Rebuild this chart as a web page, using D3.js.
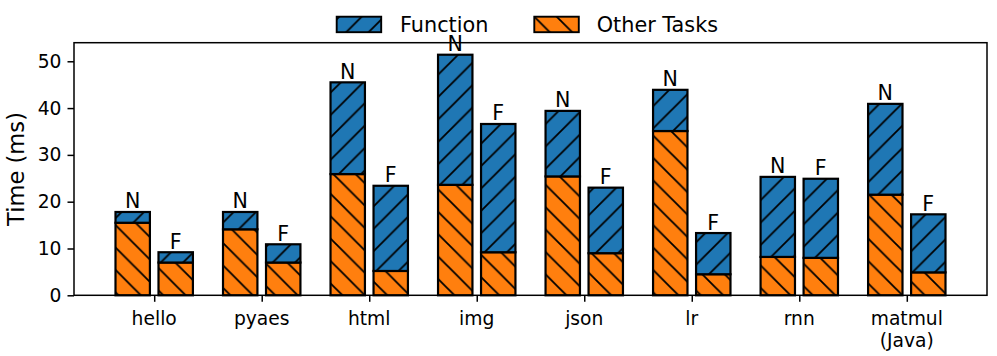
<!DOCTYPE html>
<html>
<head>
<meta charset="utf-8">
<script src="https://cdn.jsdelivr.net/npm/d3@7"></script>
<style>
  html, body { margin: 0; padding: 0; background: #fff; }
  svg { display: block; font-family: "DejaVu Sans", sans-serif; }
</style>
</head>
<body>
<svg id="chart" width="997" height="356"></svg>
<script>
// ---- data ----
const categories = ["hello", "pyaes", "html", "img", "json", "lr", "rnn", "matmul\n(Java)"];
// N (native) bars
const nativeOther = [15.5, 14.1, 25.9, 23.6, 25.4, 35.1, 8.2, 21.5];
const nativeFunction = [2.3, 3.7, 19.6, 27.8, 14.0, 8.8, 17.1, 19.4];
// F bars
const fOther = [7.0, 7.0, 5.2, 9.2, 9.0, 4.5, 8.0, 4.9];
const fFunction = [2.2, 3.9, 18.2, 27.4, 14.0, 8.8, 16.9, 12.4];
const barLabels = ["N", "F"];
const seriesNames = ["Function", "Other Tasks"];
const yTicks = [0, 10, 20, 30, 40, 50];

// ---- layout ----
const svg = d3.select("#chart");
const L = 74, R = 987, T = 42.7, B = 295.3;
const barW = 0.32, off = 0.2;
const colors = { func: "#1f77b4", other: "#ff7f0e" };

const xMin = -off - barW / 2, xMax = categories.length - 1 + off + barW / 2;
const xm = (xMax - xMin) * 0.05;
const x = d3.scaleLinear().domain([xMin - xm, xMax + xm]).range([L, R]);

const totals = nativeOther.map((v, i) => v + nativeFunction[i])
  .concat(fOther.map((v, i) => v + fFunction[i]));
const y = d3.scaleLinear().domain([0, d3.max(totals) * 1.05]).range([B, T]);

// ---- hatch patterns ----
const defs = svg.append("defs");
const s = 22.4, hw = 1.8;
function makePattern(id, color, forward) {
  const p = defs.append("pattern").attr("id", id)
    .attr("patternUnits", "userSpaceOnUse")
    .attr("width", s).attr("height", s)
    .attr("x", 0).attr("y", 356 % s);
  p.append("rect").attr("width", s).attr("height", s).attr("fill", color);
  const d = forward
    ? `M0,${s} L${s},0 M${-s/2},${s/2} L${s/2},${-s/2} M${s/2},${1.5*s} L${1.5*s},${s/2}`
    : `M0,0 L${s},${s} M${-s/2},${s/2} L${s/2},${1.5*s} M${s/2},${-s/2} L${1.5*s},${s/2}`;
  p.append("path").attr("d", d).attr("stroke", "#000").attr("stroke-width", hw).attr("fill", "none");
}
makePattern("hFunc", colors.func, true);
makePattern("hOther", colors.other, false);

// ---- bars ----
const groups = [
  { other: nativeOther, func: nativeFunction, dx: -off, label: barLabels[0] },
  { other: fOther, func: fFunction, dx: off, label: barLabels[1] }
];
const gBars = svg.append("g");
groups.forEach(g => {
  categories.forEach((c, i) => {
    const x0 = x(i + g.dx - barW / 2), x1 = x(i + g.dx + barW / 2);
    const o = g.other[i], f = g.func[i];
    gBars.append("rect")
      .attr("x", x0).attr("width", x1 - x0)
      .attr("y", y(o)).attr("height", y(0) - y(o))
      .attr("fill", "url(#hOther)").attr("stroke", "#000").attr("stroke-width", 2.2);
    gBars.append("rect")
      .attr("x", x0).attr("width", x1 - x0)
      .attr("y", y(o + f)).attr("height", y(o) - y(o + f))
      .attr("fill", "url(#hFunc)").attr("stroke", "#000").attr("stroke-width", 2.2);
    svg.append("text")
      .attr("x", (x0 + x1) / 2).attr("y", y(o + f) - 3.5)
      .attr("text-anchor", "middle").attr("font-size", 20.6)
      .text(g.label);
  });
});

// ---- axes ----
const yAxis = d3.axisLeft(y).tickValues(yTicks).tickSize(6.5).tickPadding(6);
const gy = svg.append("g").attr("transform", `translate(${L},0)`).call(yAxis);
gy.select(".domain").remove();
gy.selectAll("line").attr("stroke-width", 1.5);
gy.selectAll("text").attr("font-size", 18.7).attr("font-family", "DejaVu Sans").attr("fill", "#000");

const xAxis = d3.axisBottom(x).tickValues(d3.range(categories.length)).tickSize(6.5).tickFormat("");
const gx = svg.append("g").attr("transform", `translate(0,${B})`).call(xAxis);
gx.select(".domain").remove();
gx.selectAll("line").attr("stroke-width", 1.5);
categories.forEach((c, i) => {
  const t = svg.append("text").attr("x", x(i)).attr("y", 325)
    .attr("text-anchor", "middle").attr("font-size", 18.7);
  c.split("\n").forEach((line, j) => {
    t.append("tspan").attr("x", x(i)).attr("dy", j === 0 ? 0 : 22).text(line);
  });
});

// frame
svg.append("rect").attr("x", L).attr("y", T).attr("width", R - L).attr("height", B - T)
  .attr("fill", "none").attr("stroke", "#000").attr("stroke-width", 1.5);

// y label
svg.append("text")
  .attr("transform", `translate(24,${(T + B) / 2}) rotate(-90)`)
  .attr("text-anchor", "middle").attr("font-size", 22.6)
  .text("Time (ms)");

// ---- legend ----
const legendItems = [
  { name: seriesNames[0], fill: "url(#hFunc)", hx: 336.7, tx: 400 },
  { name: seriesNames[1], fill: "url(#hOther)", hx: 534.3, tx: 596.7 }
];
legendItems.forEach(it => {
  svg.append("rect").attr("x", it.hx).attr("y", 16.7).attr("width", 44.5).attr("height", 15.5)
    .attr("fill", it.fill).attr("stroke", "#000").attr("stroke-width", 1.9);
  svg.append("text").attr("x", it.tx).attr("y", 32).attr("font-size", 20.8).text(it.name);
});
</script>
</body>
</html>
